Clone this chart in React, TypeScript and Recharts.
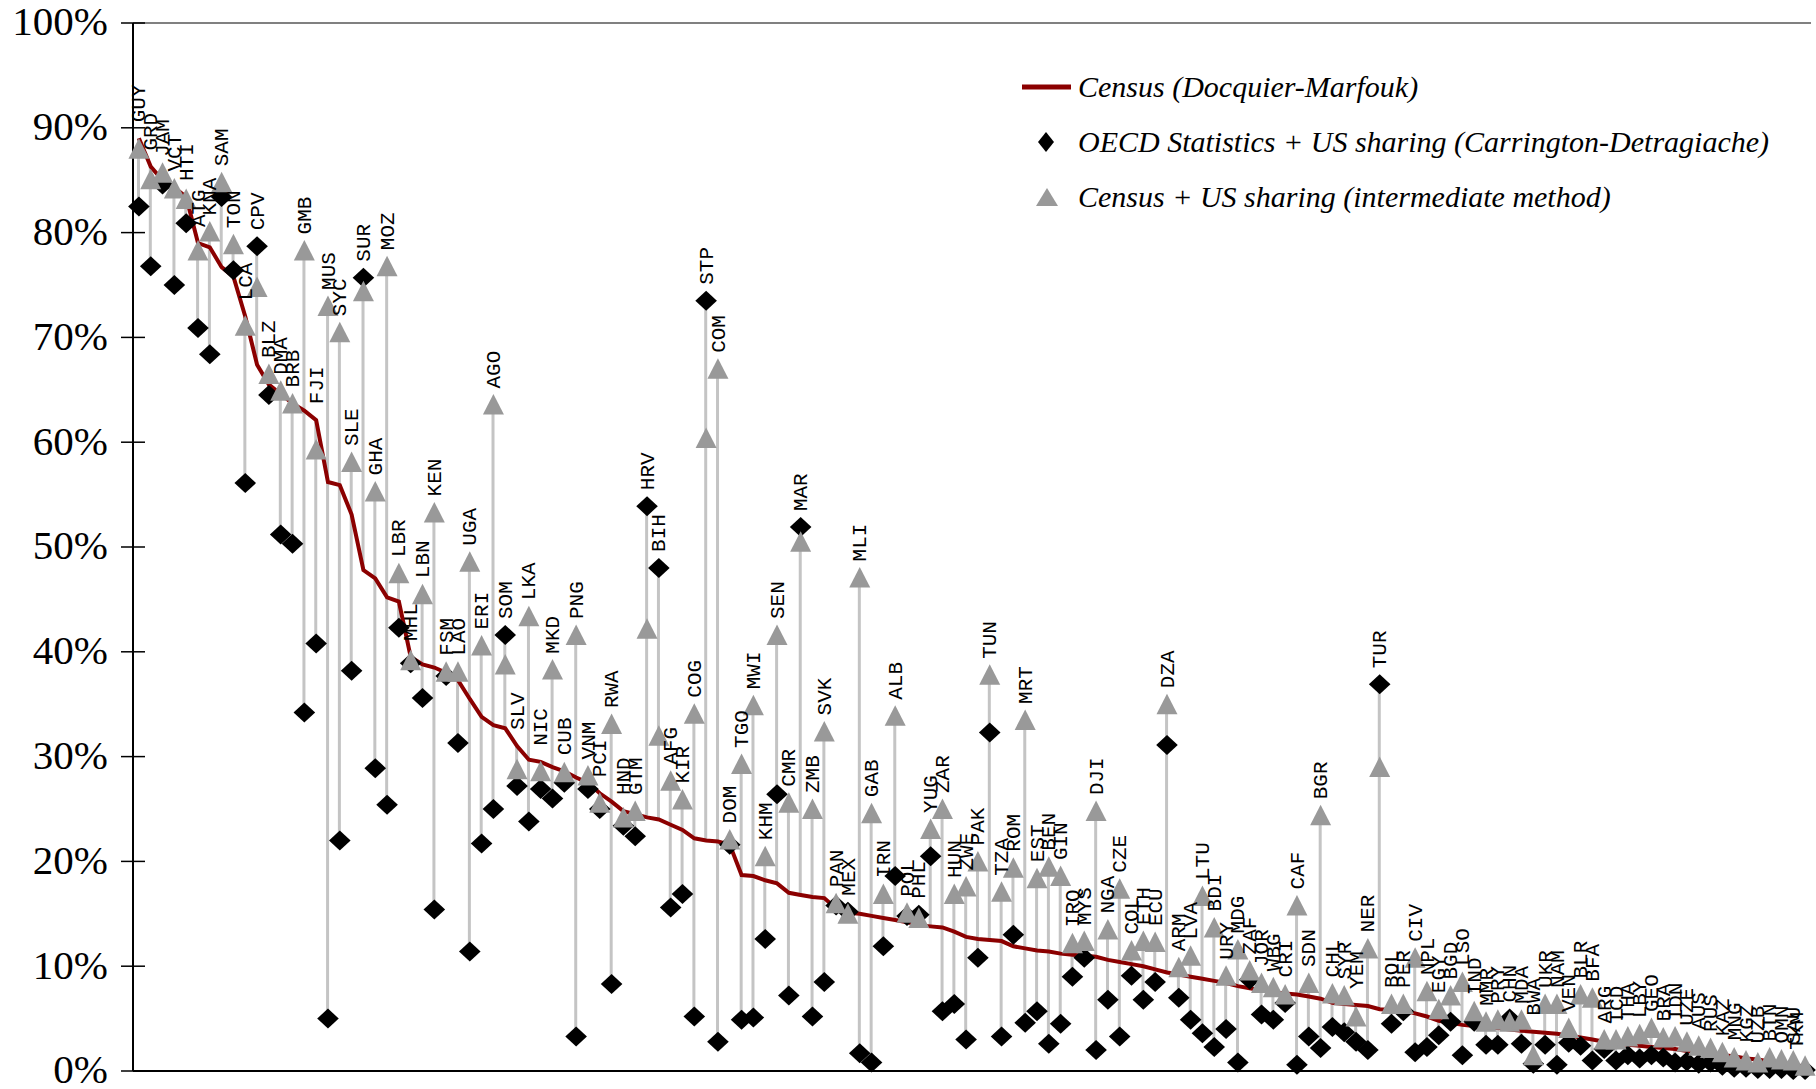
import React from 'react';
import { ComposedChart, Bar, Line, Scatter, XAxis, YAxis, LabelList, ReferenceLine } from 'recharts';

const countries = [
  'GUY','GRD','JAM','VCT','HTI','ATG','KNA','SAM','TON','LCA',
  'CPV','BLZ','DMA','BRB','GMB','FJI','MUS','SYC','SLE','SUR',
  'GHA','MOZ','LBR','MHL','LBN','KEN','FSM','LAO','UGA','ERI',
  'AGO','SOM','SLV','LKA','NIC','MKD','CUB','PNG','VNM','PCI',
  'RWA','HND','GTM','HRV','BIH','AFG','KIR','COG','STP','COM',
  'DOM','TGO','MWI','KHM','SEN','CMR','MAR','ZMB','SVK','PAN',
  'MEX','MLI','GAB','IRN','ALB','POL','PHL','YUG','ZAR','HUN',
  'ZWE','PAK','TUN','TZA','ROM','MRT','EST','BEN','GIN','IRQ',
  'MYS','DJI','NGA','CZE','COL','ETH','ECU','DZA','ARM','LVA',
  'LTU','BDI','URY','MDG','ZAF','JOR','WBG','CRI','CAF','SDN',
  'BGR','CHL','SYR','YEM','NER','TUR','BOL','PER','CIV','NPL',
  'EGY','BGD','LSO','IND','MMR','PRY','CHN','MDA','BWA','UKR',
  'NAM','VEN','BLR','BFA','ARG','TCD','THA','LBY','GEO','BRA',
  'IDN','UZE','AUS','RUS','KAZ','MNG','KGZ','UZB','BTN','OMN',
  'SAU','TKM'
];

const censusRates = [
  89.0, 86.3, 85.0, 84.3, 83.4, 79.0, 78.6, 76.7, 75.8, 72.0,
  67.4, 65.5, 64.6, 63.7, 63.0, 62.1, 56.2, 55.9, 53.1, 47.8,
  47.0, 45.2, 44.8, 39.5, 38.8, 38.5, 38.0, 37.3, 35.5, 33.8,
  33.0, 32.7, 31.0, 29.7, 29.5, 29.0, 28.6, 28.0, 27.5, 26.5,
  25.7, 24.8, 24.5, 24.2, 24.0, 23.5, 23.0, 22.2, 22.0, 21.9,
  21.6, 18.7, 18.6, 18.2, 17.9, 17.0, 16.8, 16.6, 16.5, 15.5,
  15.1, 15.0, 14.8, 14.6, 14.4, 14.2, 13.9, 13.8, 13.7, 13.3,
  12.8, 12.6, 12.5, 12.4, 11.9, 11.7, 11.5, 11.4, 11.2, 11.1,
  11.0, 10.9, 10.6, 10.4, 10.2, 10.0, 9.7, 9.4, 9.2, 9.0,
  8.8, 8.6, 8.4, 8.1, 7.9, 7.7, 7.5, 7.4, 7.3, 7.1,
  6.9, 6.5, 6.4, 6.3, 6.2, 5.9, 5.85, 5.8, 5.5, 5.2,
  4.8, 4.6, 4.4, 4.3, 4.2, 4.1, 3.95, 3.85, 3.75, 3.65,
  3.55, 3.4, 3.2, 3.0, 2.8, 2.6, 2.5, 2.4, 2.3, 2.2,
  2.1, 1.9, 1.8, 1.7, 1.5, 1.4, 1.2, 1.1, 0.9, 0.8,
  0.6, 0.4
];

const oecdRates = [
  82.5, 76.8, 84.6, 75.0, 80.9, 70.9, 68.4, 83.4, 76.4, 56.1,
  78.7, 64.5, 51.2, 50.3, 34.2, 40.8, 5.0, 22.0, 38.2, 75.7,
  28.9, 25.4, 42.3, 38.9, 35.6, 15.4, 37.7, 31.3, 11.4, 21.7,
  25.0, 41.6, 27.2, 23.8, 26.9, 26.0, 27.5, 3.3, 26.9, 25.0,
  8.3, 23.4, 22.4, 53.9, 48.0, 15.6, 16.9, 5.2, 73.5, 2.8,
  21.6, 4.9, 5.1, 12.6, 26.4, 7.2, 51.9, 5.2, 8.5, 15.8,
  15.2, 1.7, 0.8, 11.9, 18.6, 14.8, 14.9, 20.5, 5.7, 6.4,
  3.0, 10.8, 32.3, 3.3, 13.0, 4.6, 5.7, 2.6, 4.5, 9.0,
  10.8, 2.0, 6.8, 3.3, 9.1, 6.8, 8.5, 31.1, 7.0, 4.9,
  3.6, 2.3, 4.0, 0.8, 8.7, 5.4, 4.9, 6.5, 0.6, 3.3,
  2.2, 4.2, 3.7, 2.8, 2.0, 36.9, 4.5, 5.7, 1.8, 2.3,
  3.4, 4.7, 1.5, 4.7, 2.5, 2.5, 5.0, 2.6, 0.7, 2.5,
  0.6, 2.7, 2.4, 1.0, 2.1, 1.0, 1.5, 1.2, 1.5, 1.3,
  0.8, 0.9, 0.7, 0.8, 0.5, 0.3, 0.3, 0.2, 0.2, 0.2,
  0.1, 0.1
];

const intermediateRates = [
  88.0, 85.1, 85.7, 84.2, 83.2, 78.3, 80.1, 84.8, 78.9, 71.1,
  74.8, 66.5, 64.9, 63.7, 78.3, 59.3, 73.0, 70.5, 58.1, 74.4,
  55.3, 76.8, 47.5, 39.2, 45.5, 53.3, 38.1, 38.1, 48.6, 40.6,
  63.6, 38.8, 28.8, 43.4, 28.6, 38.3, 28.5, 41.6, 28.2, 25.6,
  33.1, 24.2, 24.8, 42.2, 32.0, 27.7, 25.9, 34.1, 60.4, 67.0,
  22.1, 29.3, 34.9, 20.5, 41.6, 25.6, 50.5, 25.0, 32.4, 16.0,
  15.0, 47.1, 24.6, 16.9, 33.9, 15.1, 14.6, 23.1, 25.0, 16.9,
  17.6, 20.0, 37.8, 17.1, 19.4, 33.5, 18.4, 19.5, 18.6, 12.2,
  12.4, 24.8, 13.5, 17.4, 11.5, 12.4, 12.3, 35.0, 9.9, 11.0,
  16.7, 13.7, 9.1, 11.6, 9.6, 8.4, 8.0, 7.3, 15.8, 8.4,
  24.4, 7.4, 7.2, 5.2, 11.7, 29.0, 6.4, 6.4, 10.8, 7.6,
  5.9, 7.2, 8.5, 5.7, 4.7, 4.9, 4.7, 4.9, 1.5, 6.4,
  6.4, 4.1, 7.3, 7.0, 3.0, 3.0, 3.3, 3.5, 4.1, 3.2,
  3.3, 2.8, 2.4, 2.2, 1.8, 1.3, 1.0, 0.8, 1.3, 1.1,
  1.0, 0.5
];

const yTicks = [0, 10, 20, 30, 40, 50, 60, 70, 80, 90, 100];

const legendLabels = [
  'Census (Docquier-Marfouk)',
  'OECD Statistics + US sharing (Carrington-Detragiache)',
  'Census + US sharing (intermediate method)',
];

const data = countries.map((name, i) => {
  const c = censusRates[i];
  const o = oecdRates[i];
  const t = intermediateRates[i];
  return {
    name,
    census: c,
    oecd: o,
    inter: t,
    range: [Math.min(c, o, t), Math.max(c, o, t)],
  };
});

const RED = '#8b0000';
const AXIS_X = 133;
const PLOT_RIGHT = 1811;

const Diamond = (props: any) => {
  const { cx, cy } = props;
  if (cx == null || cy == null) return null;
  const w = 10.8, h = 10;
  return <polygon points={`${cx},${cy - h} ${cx + w},${cy} ${cx},${cy + h} ${cx - w},${cy}`} fill="#000" />;
};

const Triangle = (props: any) => {
  const { cx, cy } = props;
  if (cx == null || cy == null) return null;
  return <polygon points={`${cx},${cy - 10.5} ${cx + 10.5},${cy + 10} ${cx - 10.5},${cy + 10}`} fill="#999999" />;
};

const CountryLabel = (props: any) => {
  const vb = props.viewBox || props;
  const x = vb.x ?? props.x;
  const y = vb.y ?? props.y;
  const width = vb.width ?? props.width ?? 0;
  const height = vb.height ?? props.height ?? 0;
  const top = Math.min(y, y + height);
  const cx = x + width / 2;
  const tx = Math.min(cx + 7, PLOT_RIGHT - 8);
  const ty = top - 16;
  return (
    <text
      x={tx}
      y={ty}
      transform={`rotate(-90 ${tx} ${ty})`}
      fontFamily="'Liberation Mono', 'Courier New', monospace"
      fontSize={21}
      fill="#000"
      textAnchor="start"
    >
      {props.value}
    </text>
  );
};

const YTick = (props: any) => {
  const { y, payload } = props;
  return (
    <g>
      <line x1={AXIS_X - 12} x2={AXIS_X + 12} y1={y} y2={y} stroke="#000" strokeWidth={1.5} />
      <text
        x={AXIS_X - 25}
        y={y}
        dy="0.3em"
        textAnchor="end"
        fontFamily="'Liberation Serif', 'Times New Roman', serif"
        fontSize={41}
        fill="#000"
      >
        {`${payload.value}%`}
      </text>
    </g>
  );
};

const LegendBox = () => {
  const font = "'Liberation Serif', 'Times New Roman', serif";
  const rows = [87, 142, 197];
  return (
    <svg width={816} height={240} style={{ position: 'absolute', left: 1000, top: 0 }}>
      <line x1={22} x2={71} y1={rows[0]} y2={rows[0]} stroke={RED} strokeWidth={5} />
      <polygon points={`46,${rows[1] - 10} 54,${rows[1]} 46,${rows[1] + 10} 38,${rows[1]}`} fill="#000" />
      <polygon points={`47,${rows[2] - 9} 58,${rows[2] + 9} 36,${rows[2] + 9}`} fill="#999999" />
      {legendLabels.map((t, i) => (
        <text key={t} x={78} y={rows[i] + 10} fontFamily={font} fontStyle="italic" fontSize={30} fill="#000">
          {t}
        </text>
      ))}
    </svg>
  );
};

export default function App() {
  return (
    <div style={{ position: 'absolute', left: 0, top: 0, width: 1816, height: 1089, background: '#fff' }}>
      <ComposedChart
        width={1816}
        height={1089}
        data={data}
        margin={{ top: 23, right: 5, bottom: 17, left: 0 }}
      >
        <XAxis
          dataKey="name"
          type="category"
          scale="band"
          tick={false}
          tickLine={false}
          height={1}
          axisLine={{ stroke: '#000', strokeWidth: 2 }}
        />
        <YAxis
          domain={[0, 100]}
          ticks={yTicks}
          width={AXIS_X}
          interval={0}
          tickLine={false}
          tick={<YTick />}
          axisLine={{ stroke: '#000', strokeWidth: 2 }}
        />
        <YAxis
          yAxisId="right"
          orientation="right"
          domain={[0, 100]}
          width={0}
          tick={false}
          tickLine={false}
          axisLine={{ stroke: '#808080', strokeWidth: 2 }}
        />
        <ReferenceLine y={100} stroke="#808080" strokeWidth={2} />
        <Bar dataKey="range" barSize={3} fill="#c4c4c4" isAnimationActive={false}>
          <LabelList dataKey="name" content={<CountryLabel />} />
        </Bar>
        <Line
          dataKey="census"
          type="linear"
          stroke={RED}
          strokeWidth={4}
          dot={false}
          activeDot={false}
          isAnimationActive={false}
        />
        <Scatter dataKey="oecd" shape={<Diamond />} isAnimationActive={false} />
        <Scatter dataKey="inter" shape={<Triangle />} isAnimationActive={false} />
      </ComposedChart>
      <LegendBox />
    </div>
  );
}
